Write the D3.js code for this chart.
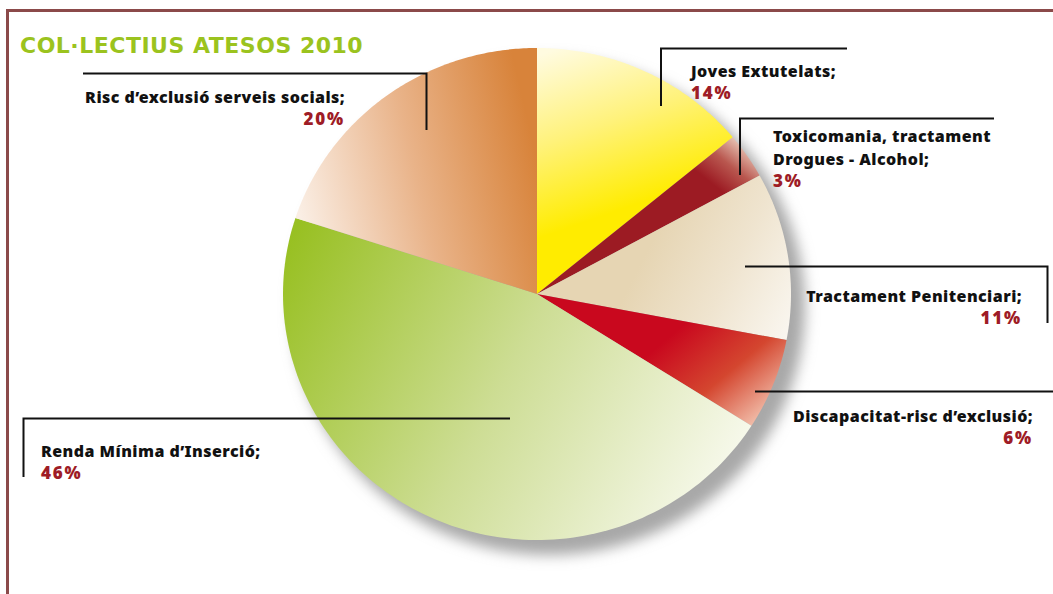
<!DOCTYPE html>
<html>
<head>
<meta charset="utf-8">
<script src="https://cdnjs.cloudflare.com/ajax/libs/d3/7.8.5/d3.min.js"></script>
<style>
  body { margin: 0; background: #fff; }
  svg { display: block; }
  .lbl { font-family: "Noto Sans", sans-serif; font-weight: 900; font-size: 16px; letter-spacing: 0.45px; fill: #111; }
  .pct { fill: #9e1c26; font-size: 17px; letter-spacing: 1.8px; }
</style>
</head>
<body>
<script>
// col.lectius atesos 2010 - pie with gradients

var categories = ['Joves Extutelats', 'Toxicomania, tractament Drogues - Alcohol', 'Tractament Penitenciari',
                  'Discapacitat-risc d\u2019exclusió', 'Renda Mínima d\u2019Inserció', 'Risc d\u2019exclusió serveis socials'];
var values = [14, 3, 11, 6, 46, 20];
var pctLabels = ['14%', '3%', '11%', '6%', '46%', '20%'];
// text lines as printed on the chart
var labelLines = [
  ['Joves Extutelats;'],
  ['Toxicomania, tractament', 'Drogues - Alcohol;'],
  ['Tractament Penitenciari;'],
  ['Discapacitat-risc d\u2019exclusió;'],
  ['Renda Mínima d\u2019Inserció;'],
  ['Risc d\u2019exclusió serveis socials;']
];

var W = 1053, H = 594;
var cx = 537, cy = 294, rx = 254, ry = 246;

var svg = d3.select('body').append('svg')
            .attr('width', W)
            .attr('height', H);

var defs = svg.append('defs');

// gradients for each slice (user space, pixel coords)
var grads = [
  {x1: 548, y1: 52, x2: 605, y2: 215, stops: ['#fffbe0', '#fff27a', '#ffec00']},
  {x1: 752, y1: 150, x2: 720, y2: 190, stops: ['#e9c8b8', '#b9574f', '#9c1b23']},
  {x1: 640, y1: 265, x2: 790, y2: 340, stops: ['#e6d5b3', '#efe4cf', '#faf7f1']},
  {x1: 668, y1: 338, x2: 752, y2: 438, stops: ['#c9081e', '#d4462f', '#f6d0bd']},
  {x1: 290, y1: 240, x2: 740, y2: 480, stops: ['#98c022', '#cddd94', '#f9faf0']},
  {x1: 537, y1: 160, x2: 300, y2: 215, stops: ['#d8833a', '#e9b389', '#faeee4']}
];

grads.forEach(function(g, i) {
  var lg = defs.append('linearGradient')
               .attr('id', 'g' + i)
               .attr('gradientUnits', 'userSpaceOnUse')
               .attr('x1', g.x1).attr('y1', g.y1)
               .attr('x2', g.x2).attr('y2', g.y2);
  g.stops.forEach(function(c, j) {
    lg.append('stop').attr('offset', j / (g.stops.length - 1)).attr('stop-color', c);
  });
});

var blur = defs.append('filter').attr('id', 'shadow')
               .attr('x', '-20%').attr('y', '-20%').attr('width', '140%').attr('height', '140%');
blur.append('feGaussianBlur').attr('stdDeviation', 7);

// border lines
svg.append('path')
   .attr('d', 'M7.5,' + H + ' L7.5,10.5 L' + W + ',10.5')
   .attr('fill', 'none')
   .attr('stroke', '#8b4a4a')
   .attr('stroke-width', 3);

// title
svg.append('text')
   .attr('x', 20).attr('y', 53)
   .style('font-family', '"DejaVu Sans", sans-serif')
   .style('font-weight', 700)
   .style('font-size', '22px')
   .style('letter-spacing', '0.5px')
   .attr('fill', '#9bc31e')
   .text('COL\u00b7LECTIUS ATESOS 2010');

// shadow
svg.append('ellipse')
   .attr('cx', cx + 12).attr('cy', cy + 13)
   .attr('rx', rx + 2).attr('ry', ry + 2)
   .attr('fill', '#a8a8a8')
   .attr('filter', 'url(#shadow)');

// pie angles from d3, drawn as an ellipse in page coordinates so gradients stay in pixel space
var pie = d3.pie().sort(null).value(function(d) { return d; });
var slices = pie(values);
var sy = d3.scaleLinear().domain([0, 1]).range([cy, cy + ry]);
var sx = d3.scaleLinear().domain([0, 1]).range([cx, cx + rx]);

svg.append('g').selectAll('path')
  .data(slices)
  .enter()
  .append('path')
  .attr('d', function(d) {
    var p = d3.path();
    p.moveTo(cx, cy);
    var n = 120;
    for (var k = 0; k <= n; k++) {
      var a = d.startAngle + (d.endAngle - d.startAngle) * k / n;
      p.lineTo(sx(Math.sin(a)), sy(-Math.cos(a)));
    }
    p.closePath();
    return p.toString();
  })
  .attr('fill', function(d, i) { return 'url(#g' + i + ')'; });

// label layout: leader polyline + text anchor
var layout = [
  {line: [[661, 106], [661, 48.5], [847, 48.5]], x: 691, y: 77, anchor: 'start'},
  {line: [[740, 175], [740, 118.5], [994, 118.5]], x: 773, y: 142, anchor: 'start'},
  {line: [[745, 266.5], [1047.5, 266.5], [1047.5, 323]], x: 1022, y: 302, anchor: 'end'},
  {line: [[755, 391.5], [1053, 391.5]], x: 1033, y: 422, anchor: 'end'},
  {line: [[510, 418.5], [23.5, 418.5], [23.5, 477]], x: 41, y: 457, anchor: 'start'},
  {line: [[83, 73.5], [426.5, 73.5], [426.5, 130]], x: 345, y: 103, anchor: 'end'}
];

var line = d3.line();

svg.selectAll('.leader')
   .data(layout)
   .enter()
   .append('path')
   .attr('class', 'leader')
   .attr('d', function(d) { return line(d.line); })
   .attr('fill', 'none')
   .attr('stroke', '#111')
   .attr('stroke-width', 2);

var lh = 23;
var labels = svg.selectAll('.lblg')
   .data(layout)
   .enter()
   .append('text')
   .attr('class', 'lbl')
   .attr('text-anchor', function(d) { return d.anchor; });

labels.each(function(d, i) {
  var t = d3.select(this);
  labelLines[i].forEach(function(s, j) {
    t.append('tspan').attr('x', d.x).attr('y', d.y + j * lh).text(s);
  });
  t.append('tspan').attr('class', 'pct')
   .attr('x', d.x).attr('y', d.y + labelLines[i].length * lh - 1)
   .text(pctLabels[i]);
});
</script>
</body>
</html>
